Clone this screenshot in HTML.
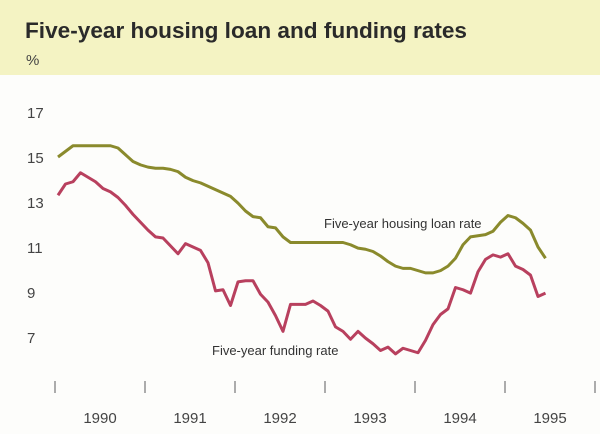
<!DOCTYPE html>
<html><head><meta charset="utf-8"><style>
html,body{margin:0;padding:0;background:#fdfdfb;}
svg{display:block;font-family:"Liberation Sans",sans-serif;}
</style></head><body>
<svg id="chart" width="600" height="434" viewBox="0 0 600 434">
<rect x="0" y="0" width="600" height="434" fill="#fdfdfb"/>
<rect x="0" y="0" width="600" height="75" fill="#f4f3c3"/>
<text x="25" y="38" font-size="22" font-weight="bold" fill="#2a2a2a" textLength="442" lengthAdjust="spacingAndGlyphs">Five-year housing loan and funding rates</text>
<text x="26" y="65" font-size="15" fill="#444">%</text>
<g id="yticks"></g>
<g id="xticks"></g>
<g id="series"></g>
<text x="324" y="228" font-size="13" fill="#333">Five-year housing loan rate</text>
<text x="212" y="355" font-size="13" fill="#333">Five-year funding rate</text>
</svg>
<script>
const yTicks = [7, 9, 11, 13, 15, 17];
const years = ["1990", "1991", "1992", "1993", "1994", "1995"];
const housingLoan = [15.0,15.25,15.5,15.5,15.5,15.5,15.5,15.5,15.4,15.1,14.8,14.65,14.55,14.5,14.5,14.45,14.35,14.1,13.95,13.85,13.7,13.55,13.4,13.25,12.95,12.6,12.35,12.3,11.9,11.85,11.45,11.2,11.2,11.2,11.2,11.2,11.2,11.2,11.2,11.1,10.95,10.9,10.8,10.6,10.35,10.15,10.05,10.05,9.95,9.85,9.85,9.95,10.15,10.5,11.1,11.45,11.5,11.55,11.7,12.1,12.4,12.3,12.05,11.75,11.0,10.5];
const funding = [13.3,13.8,13.9,14.3,14.1,13.9,13.6,13.45,13.2,12.85,12.45,12.1,11.75,11.45,11.4,11.05,10.7,11.15,11.0,10.85,10.3,9.05,9.1,8.4,9.45,9.5,9.5,8.9,8.55,7.95,7.25,8.45,8.45,8.45,8.6,8.4,8.15,7.45,7.25,6.9,7.25,6.95,6.7,6.4,6.55,6.25,6.5,6.4,6.3,6.85,7.55,8.0,8.25,9.2,9.1,8.95,9.9,10.45,10.65,10.55,10.7,10.15,10.0,9.75,8.8,8.95];

const NS = "http://www.w3.org/2000/svg";
const yScale = v => 157 - (v - 15) * 22.5;
const xMonth = i => 58 + i * 7.5;
const xYear = j => 55 + j * 90;

const yg = document.getElementById('yticks');
yTicks.forEach(v => {
  const t = document.createElementNS(NS, 'text');
  t.setAttribute('x', 27);
  t.setAttribute('y', yScale(v) + 6);
  t.setAttribute('font-size', '15');
  t.setAttribute('fill', '#444');
  t.textContent = v;
  
  
  yg.appendChild(t);
});

const xg = document.getElementById('xticks');
for (let j = 0; j <= years.length; j++) {
  const l = document.createElementNS(NS, 'line');
  l.setAttribute('x1', xYear(j)); l.setAttribute('x2', xYear(j));
  l.setAttribute('y1', 381); l.setAttribute('y2', 393);
  l.setAttribute('stroke', '#777'); l.setAttribute('stroke-width', '1.2');
  
  
  xg.appendChild(l);
}
years.forEach((y, j) => {
  const t = document.createElementNS(NS, 'text');
  t.setAttribute('x', xYear(j) + 45);
  t.setAttribute('y', 423);
  t.setAttribute('font-size', '15');
  t.setAttribute('fill', '#444');
  t.setAttribute('text-anchor', 'middle');
  t.textContent = y;
  
  
  xg.appendChild(t);
});

function drawLine(vals, color, name) {
  const p = document.createElementNS(NS, 'polyline');
  p.setAttribute('points', vals.map((v, i) => xMonth(i) + ',' + yScale(v)).join(' '));
  p.setAttribute('fill', 'none');
  p.setAttribute('stroke', color);
  p.setAttribute('stroke-width', '3');
  p.setAttribute('stroke-linejoin', 'round');
  
  
  document.getElementById('series').appendChild(p);
}
drawLine(housingLoan, '#8a8a2c', 'housing-loan-rate-line');
drawLine(funding, '#b8405e', 'funding-rate-line');
</script>
</body></html>
